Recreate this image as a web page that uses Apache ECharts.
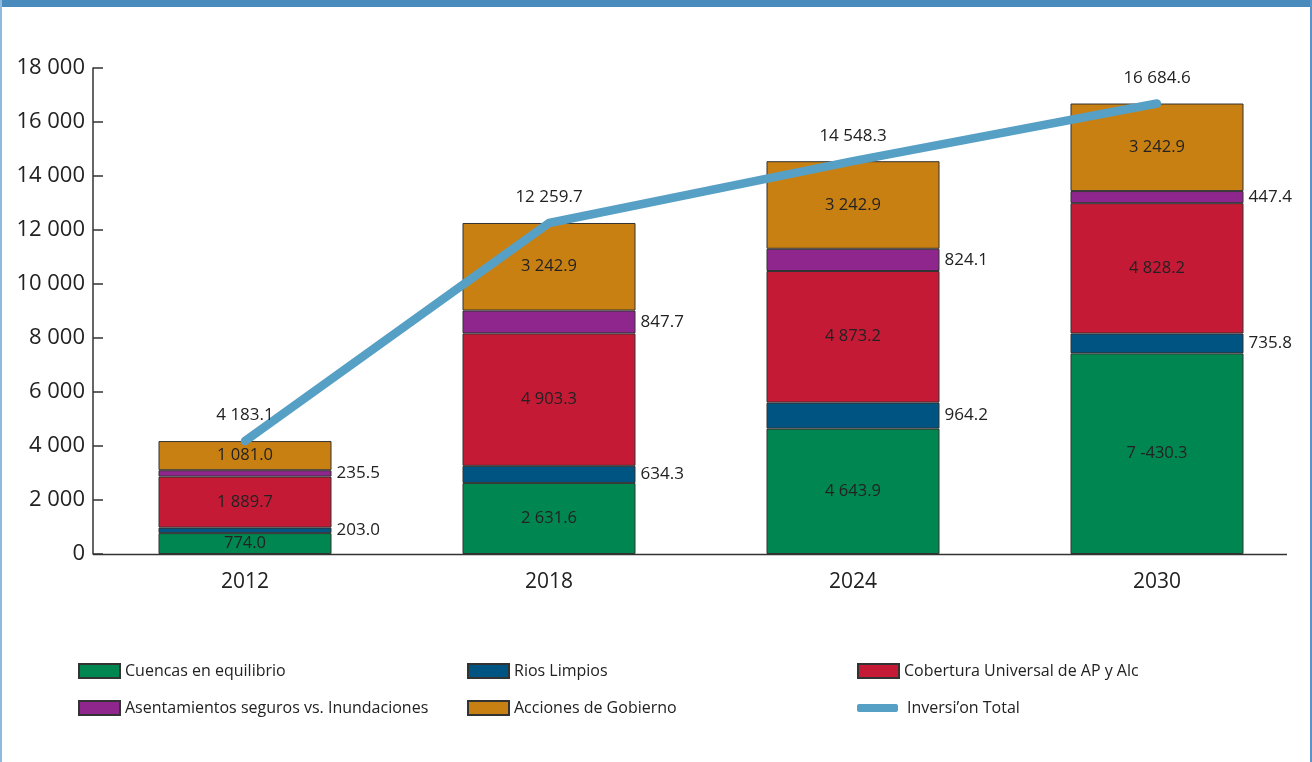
<!DOCTYPE html>
<html>
<head>
<meta charset="utf-8">
<script src="https://cdn.jsdelivr.net/npm/echarts@6/dist/echarts.min.js"></script>
<style>html,body{margin:0;padding:0;background:#fff;}#c{width:1312px;height:762px;}</style>
</head>
<body>
<div id="c"></div>
<script>
var years = ['2012', '2018', '2024', '2030'];
var cuencas = [774.0, 2631.6, 4643.9, 7430.3];
var cuencasLabels = ['774.0', '2 631.6', '4 643.9', '7 -430.3'];
var rios = [203.0, 634.3, 964.2, 735.8];
var cobertura = [1889.7, 4903.3, 4873.2, 4828.2];
var asentamientos = [235.5, 847.7, 824.1, 447.4];
var acciones = [1081.0, 3242.9, 3242.9, 3242.9];
var total = [4183.1, 12259.7, 14548.3, 16684.6];
var yTicks = [0, 2000, 4000, 6000, 8000, 10000, 12000, 14000, 16000, 18000];

var names = ['Cuencas en equilibrio', 'Rios Limpios', 'Cobertura Universal de AP y Alc',
  'Asentamientos seguros vs. Inundaciones', 'Acciones de Gobierno', 'Inversi\u2019on Total'];

var FONT = '"Open Sans", "Noto Sans", sans-serif';
function fmt(v) {
  var s = v.toFixed(1);
  var parts = s.split('.');
  parts[0] = parts[0].replace(/\B(?=(\d{3})+(?!\d))/g, ' ');
  return parts.join('.');
}
function intFmt(v) { return String(v).replace(/\B(?=(\d{3})+(?!\d))/g, ' '); }

function barSeries(name, data, color, pos, labels) {
  return {
    name: name, type: 'bar', stack: 'a', data: data, barWidth: 173,
    itemStyle: { color: color, borderColor: '#333', borderWidth: 1 },
    label: {
      show: true, position: pos, distance: 5, color: '#222', fontFamily: FONT,
      fontSize: pos === 'inside' ? 16.5 : 17,
      formatter: function (p) { return labels ? labels[p.dataIndex] : fmt(p.value); }
    }
  };
}

var chart = echarts.init(document.getElementById('c'), null, { renderer: 'canvas' });

function legendAt(name, left, top, extra) {
  var l = {
    data: [name], left: left, top: top, itemWidth: 41, itemHeight: 14, itemGap: 0,
    padding: 0, icon: 'rect',
    textStyle: { fontFamily: FONT, fontSize: 16, color: '#222' },
    selectedMode: false
  };
  if (extra) { for (var k in extra) l[k] = extra[k]; }
  return l;
}

var option = {
  animation: false,
  backgroundColor: '#fff',
  grid: { left: 93, right: 3, top: 68, bottom: 208, containLabel: false },
  graphic: [
    { type: 'rect', shape: { x: 0, y: 0, width: 1312, height: 7 }, style: { fill: '#4a8bbe' }, z: 100 },
    { type: 'rect', shape: { x: 0, y: 0, width: 2, height: 762 }, style: { fill: '#8fbade' }, z: 100 },
    { type: 'rect', shape: { x: 1310, y: 0, width: 2, height: 762 }, style: { fill: '#5b93c6' }, z: 100 },
    { type: 'line', shape: { x1: 93, y1: 554.5, x2: 1287, y2: 554.5 }, style: { stroke: '#333', lineWidth: 1.5 }, z: 50 }
  ],
  legend: [
    legendAt(names[0], 78, 663),
    legendAt(names[1], 467, 663),
    legendAt(names[2], 857, 663),
    legendAt(names[3], 78, 700),
    legendAt(names[4], 467, 700),
    legendAt(names[5], 857, 700, { itemHeight: 8, icon: 'roundRect',
      textStyle: { fontFamily: FONT, fontSize: 16, color: '#222', padding: [0, 0, 0, 4] } })
  ],
  xAxis: {
    type: 'category', data: years,
    axisLine: { show: false },
    axisTick: { show: false },
    axisLabel: { fontFamily: FONT, fontSize: 21, color: '#222', margin: 18 }
  },
  yAxis: {
    type: 'value', min: 0, max: 18000, interval: 2000,
    axisLine: { show: true, lineStyle: { color: '#333', width: 1.5 } },
    axisTick: { show: true, inside: true, length: 10, lineStyle: { color: '#333', width: 1.5 } },
    splitLine: { show: false },
    axisLabel: { fontFamily: FONT, fontSize: 22, color: '#222', margin: 8,
      formatter: function (v) { return yTicks.indexOf(v) >= 0 ? intFmt(v) : ''; } }
  },
  series: [
    barSeries(names[0], cuencas, '#008751', 'inside', cuencasLabels),
    barSeries(names[1], rios, '#005482', 'right'),
    barSeries(names[2], cobertura, '#c41a36', 'inside'),
    barSeries(names[3], asentamientos, '#8f268d', 'right'),
    barSeries(names[4], acciones, '#c98012', 'inside'),
    {
      name: names[5], type: 'line', data: total, symbol: 'circle', symbolSize: 2, showSymbol: true, z: 10,
      lineStyle: { color: '#57a0c5', width: 8.5, cap: 'round', join: 'round' },
      itemStyle: { color: '#57a0c5' },
      label: { show: true, position: 'top', distance: 16, color: '#222', fontFamily: FONT, fontSize: 17,
        formatter: function (p) { return fmt(p.value); } }
    }
  ]
};
chart.setOption(option);
</script>
</body>
</html>
